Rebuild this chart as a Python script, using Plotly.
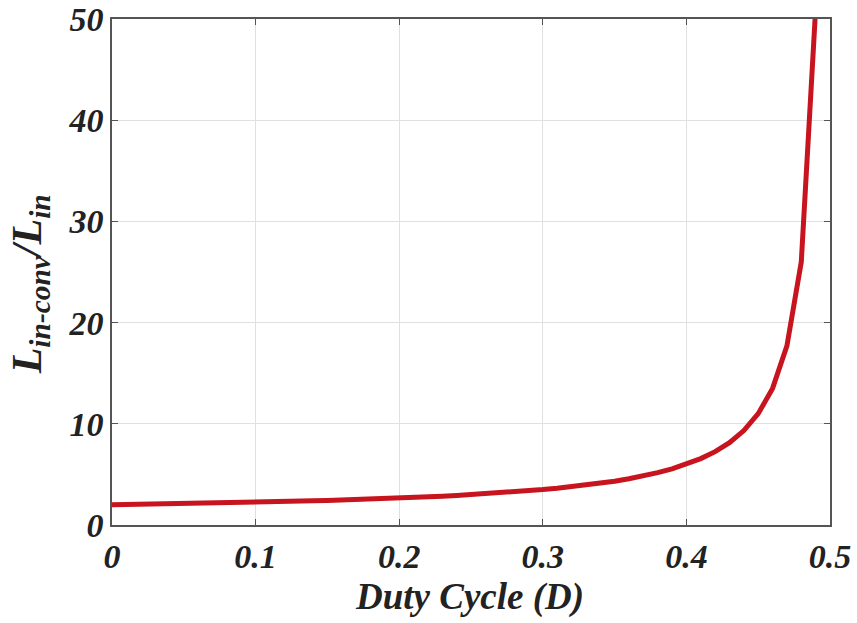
import plotly.graph_objects as go

duty = [0.00, 0.01, 0.02, 0.03, 0.04, 0.05, 0.06, 0.07, 0.08, 0.09,
        0.10, 0.11, 0.12, 0.13, 0.14, 0.15, 0.16, 0.17, 0.18, 0.19,
        0.20, 0.21, 0.22, 0.23, 0.24, 0.25, 0.26, 0.27, 0.28, 0.29,
        0.30, 0.31, 0.32, 0.33, 0.34, 0.35, 0.36, 0.37, 0.38, 0.39,
        0.40, 0.41, 0.42, 0.43, 0.44, 0.45, 0.46, 0.47, 0.48, 0.49]
ratio = [2.00, 2.02, 2.04, 2.06, 2.09, 2.11, 2.14, 2.16, 2.19, 2.22,
         2.25, 2.28, 2.32, 2.35, 2.39, 2.43, 2.47, 2.52, 2.56, 2.61,
         2.67, 2.72, 2.79, 2.85, 2.92, 3.00, 3.08, 3.17, 3.27, 3.38,
         3.50, 3.63, 3.78, 3.94, 4.13, 4.33, 4.57, 4.85, 5.17, 5.55,
         6.00, 6.56, 7.25, 8.14, 9.33, 11.0, 13.5, 17.7, 26.0, 51.0]

x_ticks = [0, 0.1, 0.2, 0.3, 0.4, 0.5]
x_labels = ["0", "0.1", "0.2", "0.3", "0.4", "0.5"]
y_ticks = [0, 10, 20, 30, 40, 50]
y_labels = ["0", "10", "20", "30", "40", "50"]
x_title = "<b><i>Duty Cycle (D)</i></b>"
y_title = "<b><i>L<sub>in-conv</sub>/L<sub>in</sub></i></b>"

font_family = "Liberation Serif"

fig = go.Figure()
fig.add_trace(go.Scatter(
    x=duty, y=ratio, mode="lines",
    line=dict(color="#c8141e", width=5),
    showlegend=False,
))

axis_common = dict(
    showline=True, linecolor="#555555", linewidth=1.5, mirror="ticks",
    ticks="inside", ticklen=6, tickcolor="#555555", tickwidth=1,
    showgrid=True, gridcolor="#e0e0e0", gridwidth=1,
    zeroline=False, automargin=False,
    tickfont=dict(family=font_family, size=34, color="#222222", style="italic", weight="bold"),
)

fig.update_layout(
    width=857, height=623,
    margin=dict(l=112, r=27, t=19, b=98),
    paper_bgcolor="white", plot_bgcolor="white",
    xaxis=dict(range=[0, 0.5], tickvals=x_ticks, ticktext=x_labels, **axis_common),
    yaxis=dict(range=[0, 50], tickvals=y_ticks, ticktext=y_labels, **axis_common),
    annotations=[
        dict(text=x_title, xref="paper", yref="paper", x=0.4986, y=-0.142,
             xanchor="center", yanchor="middle", showarrow=False,
             font=dict(family=font_family, size=37, color="#222222")),
        dict(text=y_title, xref="paper", yref="paper", x=-0.114, y=0.476,
             xanchor="center", yanchor="middle", showarrow=False, textangle=-90,
             font=dict(family=font_family, size=42, color="#222222")),
    ],
)

fig.write_html("out.html")
